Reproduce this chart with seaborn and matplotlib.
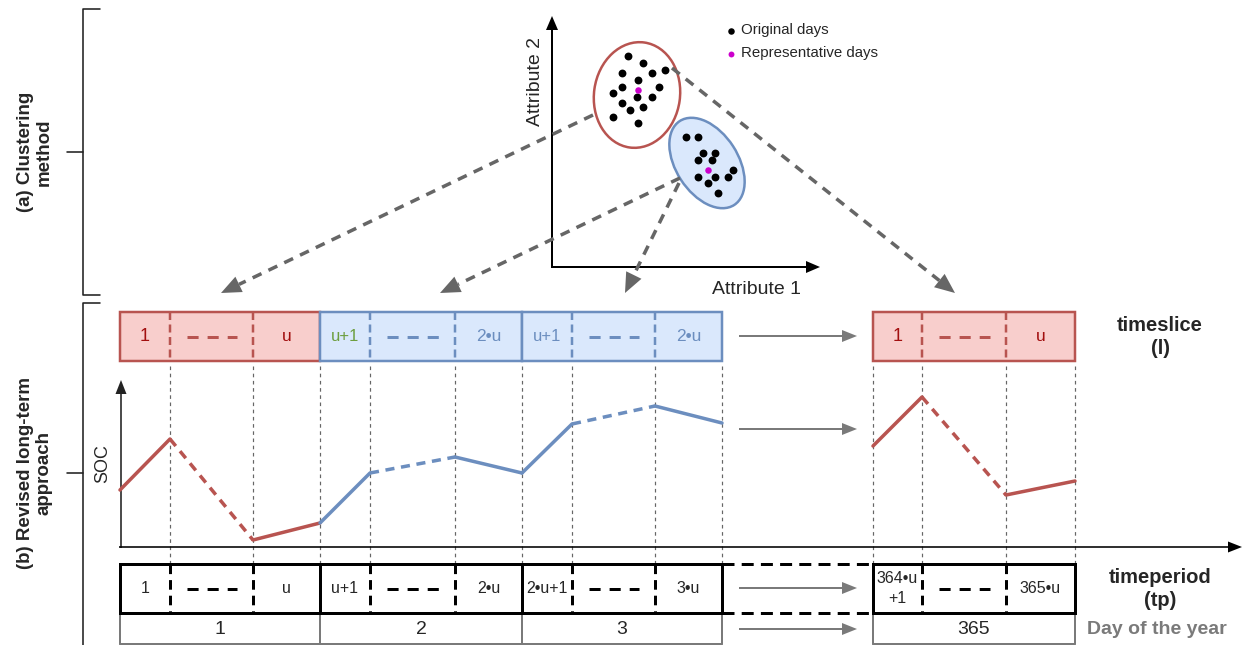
import numpy as np
import pandas as pd
import matplotlib
matplotlib.use("Agg")
import matplotlib.pyplot as plt
from matplotlib.patches import Ellipse, Polygon, Rectangle
import seaborn as sns

# ---------------- data ----------------
# clustering scatter (Attribute 1, Attribute 2) in picture units
red_x = [628, 643, 622, 652, 665, 638, 622, 659, 613, 637, 652, 622, 630, 643, 613, 638]
red_y = [56, 63, 73, 73, 70, 80, 87, 87, 93, 97, 97, 103, 110, 107, 117, 123]
blue_x = [686, 698, 703, 715, 698, 712, 698, 715, 728, 733, 708, 718]
blue_y = [137, 137, 153, 153, 160, 160, 177, 177, 177, 170, 183, 193]
rep_x = [638, 708]
rep_y = [90, 170]

# SOC values at timeslice boundaries for each shown day
soc_day1 = [57, 108, 7, 24]
soc_day2 = [24, 74, 90, 74]
soc_day3 = [74, 123, 141, 124]
soc_day365 = [101, 150, 52, 66]
day_cluster = ["red", "blue", "blue", "red"]

timeslice_first = ["1", "u+1", "u+1", "1"]
timeslice_last = ["u", "2\u2022u", "2\u2022u", "u"]
timeperiod_first = ["1", "u+1", "2\u2022u+1", "364\u2022u\n+1"]
timeperiod_last = ["u", "2\u2022u", "3\u2022u", "365\u2022u"]
day_labels = ["1", "2", "3", "365"]

# ---------------- layout / style ----------------
W, H = 1245, 645
day_bounds = [[120, 170, 253, 320], [320, 370, 455, 522],
              [522, 572, 655, 722], [873, 922, 1006, 1075]]
AX_Y = 547          # SOC horizontal axis
TS_TOP, TS_BOT = 312, 361
TP_TOP, TP_BOT = 564, 613
DY_BOT = 644

RED_EDGE, RED_FILL, RED_TXT = "#b85450", "#f8cecc", "#a20f0f"
BLUE_EDGE, BLUE_FILL = "#6c8ebf", "#dae8fc"
GREEN_TXT = "#6d9e3f"
GRAY = "#7a7a7a"
DGRAY = "#666666"

sns.set_theme(style="white")
plt.rcParams["font.family"] = ["Liberation Sans", "DejaVu Sans"]

fig = plt.figure(figsize=(W / 100, H / 100), dpi=100)
ax = fig.add_axes([0, 0, 1, 1])
ax.set_xlim(0, W)
ax.set_ylim(H, 0)
ax.axis("off")

PT = 0.72  # points per pixel


def arrow(x0, y0, x1, y1, color, lw, ls="-", hl=14, hw=12, z=3):
    dx, dy = x1 - x0, y1 - y0
    L = np.hypot(dx, dy)
    ux, uy = dx / L, dy / L
    bx, by = x1 - ux * hl, y1 - uy * hl
    ax.plot([x0, bx], [y0, by], color=color, lw=lw * PT, ls=ls,
            solid_capstyle="butt", dash_capstyle="butt", zorder=z)
    px, py = -uy, ux
    ax.add_patch(Polygon([(x1, y1), (bx + px * hw / 2, by + py * hw / 2),
                          (bx - px * hw / 2, by - py * hw / 2)],
                         closed=True, color=color, lw=0, zorder=z))


# ---------------- left brackets ----------------
for top, bot, tick in [(9, 295, 152), (303, 650, 473)]:
    ax.plot([100, 83, 83, 100], [top, top, bot, bot], color="#222222", lw=1.6 * PT)
    ax.plot([67, 83], [tick, tick], color="#222222", lw=1.6 * PT)
ax.text(35, 152, "(a) Clustering\nmethod", rotation=90, ha="center", va="center",
        fontsize=13.5, fontweight="bold", linespacing=1.1)
ax.text(35, 473, "(b) Revised long-term\napproach", rotation=90, ha="center", va="center",
        fontsize=13.5, fontweight="bold", linespacing=1.1)

# ---------------- clustering scatter ----------------
arrow(552, 268, 552, 16, "black", 2, hl=14, hw=12)
arrow(551, 267, 820, 267, "black", 2, hl=14, hw=12)
ax.text(535, 82, "Attribute 2", rotation=90, ha="center", va="center", fontsize=14)
ax.text(757, 289, "Attribute 1", ha="center", va="center", fontsize=14)

ax.add_patch(Ellipse((637, 95), 86, 106, angle=8, fc="none", ec=RED_EDGE, lw=2.5 * PT, zorder=2))
ax.add_patch(Ellipse((707, 163), 62, 100, angle=-33, fc=BLUE_FILL, ec=BLUE_EDGE, lw=2.5 * PT, zorder=2))

pts = pd.DataFrame({"a1": red_x + blue_x, "a2": red_y + blue_y})
sns.scatterplot(data=pts, x="a1", y="a2", ax=ax, color="black", s=32, linewidth=0, zorder=4)
reps = pd.DataFrame({"a1": rep_x, "a2": rep_y})
sns.scatterplot(data=reps, x="a1", y="a2", ax=ax, color="#cc00cc", s=22, linewidth=0, zorder=5)
ax.set_xlim(0, W)
ax.set_ylim(H, 0)
ax.set_xlabel("")
ax.set_ylabel("")

ax.scatter([731], [31], s=22, color="black", lw=0)
ax.scatter([731], [54], s=18, color="#cc00cc", lw=0)
ax.text(741, 30, "Original days", ha="left", va="center", fontsize=10.8)
ax.text(741, 53, "Representative days", ha="left", va="center", fontsize=10.8)

# dashed mapping arrows
dash_arrow = (0, (2.8, 2.2))
arrow(593, 115, 221, 293, DGRAY, 3.5, ls=dash_arrow, hl=20, hw=17)
arrow(680, 178, 440, 293, DGRAY, 3.5, ls=dash_arrow, hl=20, hw=17)
arrow(679, 183, 625, 293, DGRAY, 3.5, ls=dash_arrow, hl=20, hw=17)
arrow(672, 68, 955, 293, DGRAY, 3.5, ls=dash_arrow, hl=20, hw=17)

# ---------------- timeslice boxes ----------------
for i, b in enumerate(day_bounds):
    red = day_cluster[i] == "red"
    ec = RED_EDGE if red else BLUE_EDGE
    fc = RED_FILL if red else BLUE_FILL
    ax.add_patch(Rectangle((b[0], TS_TOP), b[3] - b[0], TS_BOT - TS_TOP, fc=fc, ec=ec,
                           lw=2.5 * PT, zorder=2))
    for xd in (b[1], b[2]):
        ax.plot([xd, xd], [TS_TOP, TS_BOT], color=ec, lw=2.5 * PT, ls=(0, (3.2, 1.8)), zorder=3)
    ym = (TS_TOP + TS_BOT) / 2
    ax.plot([b[1] + 17, b[2] - 16], [ym, ym], color=ec, lw=3 * PT, ls=(0, (3.7, 3.0)), zorder=3)
    c_first = RED_TXT if red else (GREEN_TXT if i == 1 else BLUE_EDGE)
    c_last = RED_TXT if red else BLUE_EDGE
    fs_first = 13 if red else 12
    ax.text((b[0] + b[1]) / 2, ym, timeslice_first[i], ha="center", va="center",
            fontsize=fs_first, color=c_first, zorder=4)
    ax.text((b[2] + b[3]) / 2, ym, timeslice_last[i], ha="center", va="center",
            fontsize=12.5, color=c_last, zorder=4)

ax.text(1160, 337, "timeslice\n(l)", ha="center", va="center", fontsize=14.5,
        fontweight="bold", linespacing=1.3)

# ---------------- SOC plot ----------------
vlines = sorted(set(x for b in day_bounds for x in b) - {120})
for xv in vlines:
    ax.plot([xv, xv], [366, TP_TOP], color=DGRAY, lw=1.2 * PT, ls=(0, (3, 3)), zorder=1)

arrow(121, AX_Y + 1, 121, 380, "#222222", 1.6, hl=14, hw=11)
arrow(119, AX_Y, 1242, AX_Y, "black", 1.6, hl=14, hw=11)
ax.text(103, 464, "SOC", rotation=90, ha="center", va="center", fontsize=13)

soc_all = [soc_day1, soc_day2, soc_day3, soc_day365]
for i, b in enumerate(day_bounds):
    col = RED_EDGE if day_cluster[i] == "red" else BLUE_EDGE
    ys = [AX_Y - v for v in soc_all[i]]
    for k, ls in enumerate(["-", (0, (2.6, 1.9)), "-"]):
        seg = pd.DataFrame({"x": b[k:k + 2], "y": ys[k:k + 2]})
        sns.lineplot(data=seg, x="x", y="y", ax=ax, color=col, lw=3.5 * PT,
                     linestyle=ls, zorder=4, estimator=None, sort=False)
ax.set_xlim(0, W)
ax.set_ylim(H, 0)
ax.set_xlabel("")
ax.set_ylabel("")

# ---------------- timeperiod row ----------------
ax.add_patch(Rectangle((120, TP_TOP), 722 - 120, TP_BOT - TP_TOP, fc="none", ec="black",
                       lw=3 * PT, zorder=3))
ax.add_patch(Rectangle((873, TP_TOP), 1075 - 873, TP_BOT - TP_TOP, fc="none", ec="black",
                       lw=3 * PT, zorder=3))
for xs in (320, 522):
    ax.plot([xs, xs], [TP_TOP, TP_BOT], color="black", lw=3 * PT, zorder=3)
for yy in (TP_TOP, TP_BOT):
    ax.plot([722, 873], [yy, yy], color="black", lw=3 * PT, ls=(0, (4.0, 2.4)), zorder=3)
ym = (TP_TOP + TP_BOT) / 2
for i, b in enumerate(day_bounds):
    for xd in (b[1], b[2]):
        ax.plot([xd, xd], [TP_TOP, TP_BOT], color="black", lw=3 * PT, ls=(0, (3.2, 2.0)), zorder=3)
    ax.plot([b[1] + 17, b[2] - 16], [ym, ym], color="black", lw=3 * PT, ls=(0, (3.7, 3.0)), zorder=3)
    ax.text((b[0] + b[1]) / 2, ym, timeperiod_first[i], ha="center", va="center",
            fontsize=11.5, linespacing=1.35, zorder=4)
    ax.text((b[2] + b[3]) / 2, ym, timeperiod_last[i], ha="center", va="center",
            fontsize=11.5, zorder=4)
ax.text(1160, 589, "timeperiod\n(tp)", ha="center", va="center", fontsize=14.5,
        fontweight="bold", linespacing=1.3)

# ---------------- day of the year row ----------------
for xs in (120, 320, 522, 722, 873, 1075):
    ax.plot([xs, xs], [TP_BOT, DY_BOT], color=GRAY, lw=2 * PT, zorder=2)
ax.plot([120, 722], [DY_BOT, DY_BOT], color=GRAY, lw=2 * PT)
ax.plot([873, 1075], [DY_BOT, DY_BOT], color=GRAY, lw=2 * PT)
for i, b in enumerate(day_bounds):
    ax.text((b[0] + b[3]) / 2, 629, day_labels[i], ha="center", va="center", fontsize=14)
ax.text(1157, 629, "Day of the year", ha="center", va="center", fontsize=14,
        fontweight="bold", color=GRAY)

# ---------------- continuation arrows ----------------
for yy in (336, 429, 588, 629):
    arrow(739, yy, 857, yy, GRAY, 2, hl=15, hw=12)

fig.savefig("out.png", dpi=100)
